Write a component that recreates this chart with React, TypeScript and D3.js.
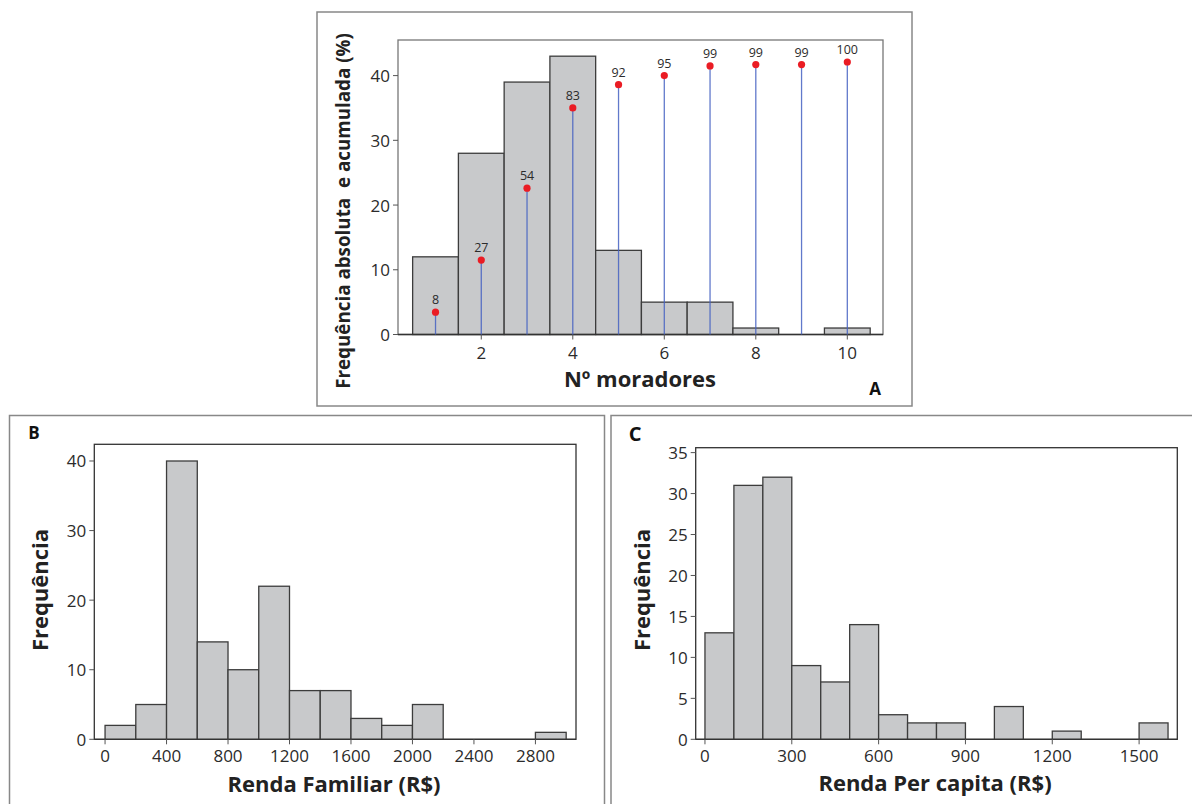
import React from "react";
import * as d3 from "d3";

// ---------- Data ----------
// Panel A: Nº moradores (absolute frequency histogram + cumulative stems)
const moradoresBins = [1, 2, 3, 4, 5, 6, 7, 8, 9, 10];
const moradoresFreq = [12, 28, 39, 43, 13, 5, 5, 1, 0, 1];
const cumLabels = [8, 27, 54, 83, 92, 95, 99, 99, 99, 100];
const cumHeights = [3.45, 11.5, 22.6, 35.0, 38.6, 40.0, 41.5, 41.7, 41.7, 42.1];
const moradoresXTicks = [2, 4, 6, 8, 10];
const moradoresYTicks = [0, 10, 20, 30, 40];

// Panel B: Renda Familiar (bins of 200)
const familiarBinStarts = [0, 200, 400, 600, 800, 1000, 1200, 1400, 1600, 1800, 2000, 2200, 2400, 2600, 2800];
const familiarFreq = [2, 5, 40, 14, 10, 22, 7, 7, 3, 2, 5, 0, 0, 0, 1];
const familiarXTicks = [0, 400, 800, 1200, 1600, 2000, 2400, 2800];
const familiarYTicks = [0, 10, 20, 30, 40];

// Panel C: Renda Per capita (bins of 100)
const perCapitaBinStarts = [0, 100, 200, 300, 400, 500, 600, 700, 800, 900, 1000, 1100, 1200, 1300, 1400, 1500];
const perCapitaFreq = [13, 31, 32, 9, 7, 14, 3, 2, 2, 0, 4, 0, 1, 0, 0, 2];
const perCapitaXTicks = [0, 300, 600, 900, 1200, 1500];
const perCapitaYTicks = [0, 5, 10, 15, 20, 25, 30, 35];

// ---------- Styles ----------
const BAR_FILL = "#c8c9cb";
const BAR_STROKE = "#3c3c3c";
const TEXT = "#2b2b2b";
const FONT = "'Open Sans', 'DejaVu Sans', sans-serif";
const TITLE_SIZE = 22;

type HistProps = {
  x0: number; x1: number; y0: number; y1: number; // frame pixel bounds (left, right, bottom, top)
  xDomain: [number, number]; yDomain: [number, number];
  binStarts: number[]; binWidth: number; freq: number[];
  xTicks: number[]; yTicks: number[];
  frameColor: string;
  tickFont: number;
  xLabelOffset: number;
};

function Histogram(p: HistProps) {
  const x = d3.scaleLinear().domain(p.xDomain).range([p.x0, p.x1]);
  const y = d3.scaleLinear().domain(p.yDomain).range([p.y0, p.y1]);
  return (
    <g>
      <rect x={p.x0} y={p.y1} width={p.x1 - p.x0} height={p.y0 - p.y1} fill="white" stroke={p.frameColor} strokeWidth={1.3} />
      {p.binStarts.map((b, i) =>
        p.freq[i] > 0 ? (
          <rect key={i} x={x(b)} y={y(p.freq[i])} width={x(b + p.binWidth) - x(b)} height={y(0) - y(p.freq[i])}
            fill={BAR_FILL} stroke={BAR_STROKE} strokeWidth={1.3} />
        ) : null
      )}
      <line x1={p.x0} x2={p.x1} y1={p.y0} y2={p.y0} stroke="#333" strokeWidth={1.3} />
      {p.yTicks.map((t) => (
        <g key={"y" + t}>
          <line x1={p.x0 - 5} x2={p.x0} y1={y(t)} y2={y(t)} stroke="#555" strokeWidth={1} />
          <text x={p.x0 - 8} y={y(t)} textAnchor="end" dominantBaseline="central" fontSize={p.tickFont} fill={TEXT} fontFamily={FONT}>{t}</text>
        </g>
      ))}
      {p.xTicks.map((t) => (
        <g key={"x" + t}>
          <line x1={x(t)} x2={x(t)} y1={p.y0} y2={p.y0 + 5} stroke="#555" strokeWidth={1} />
          <text x={x(t)} y={p.y0 + p.xLabelOffset} textAnchor="middle" dominantBaseline="central" fontSize={p.tickFont} fill={TEXT} fontFamily={FONT}>{t}</text>
        </g>
      ))}
    </g>
  );
}

function PanelA() {
  const x0 = 398, x1 = 883, y0 = 334.5, y1 = 40;
  const xDomain: [number, number] = [0.18, 10.78];
  const yDomain: [number, number] = [0, 45.5];
  const x = d3.scaleLinear().domain(xDomain).range([x0, x1]);
  const y = d3.scaleLinear().domain(yDomain).range([y0, y1]);
  return (
    <g>
      <Histogram x0={x0} x1={x1} y0={y0} y1={y1} xDomain={xDomain} yDomain={yDomain}
        binStarts={moradoresBins.map((b) => b - 0.5)} binWidth={1} freq={moradoresFreq}
        xTicks={moradoresXTicks} yTicks={moradoresYTicks} frameColor="#777" tickFont={17} xLabelOffset={18} />
      {moradoresBins.map((b, i) => (
        <g key={"c" + i}>
          <line x1={x(b)} x2={x(b)} y1={y(0)} y2={y(cumHeights[i])} stroke="#4562c2" strokeOpacity={0.85} strokeWidth={1.3} />
          <circle cx={x(b)} cy={y(cumHeights[i])} r={3.6} fill="#ea1c24" />
          <text x={x(b)} y={y(cumHeights[i]) - 8} textAnchor="middle" fontSize={12.5} fill={TEXT} fontFamily={FONT}>{cumLabels[i]}</text>
        </g>
      ))}
      <text x={640} y={378} textAnchor="middle" dominantBaseline="central" fontSize={TITLE_SIZE} fontWeight="bold" fill="#222" fontFamily={FONT}>Nº moradores</text>
      <text transform="translate(343,211) rotate(-90)" textAnchor="middle" dominantBaseline="central" fontSize={18.8} fontWeight="bold" fill="#222" fontFamily={FONT} xmlSpace="preserve">Frequência absoluta  e acumulada (%)</text>
      <text x={875} y={388} textAnchor="middle" dominantBaseline="central" fontSize={17} fontWeight="bold" fill="#111" fontFamily={FONT}>A</text>
    </g>
  );
}

function PanelB() {
  return (
    <g>
      <Histogram x0={94.3} x1={576} y0={739.3} y1={444.3} xDomain={[-70, 3064]} yDomain={[0, 42.4]}
        binStarts={familiarBinStarts} binWidth={200} freq={familiarFreq}
        xTicks={familiarXTicks} yTicks={familiarYTicks} frameColor="#333" tickFont={17} xLabelOffset={16} />
      <text x={334} y={783} textAnchor="middle" dominantBaseline="central" fontSize={TITLE_SIZE} fontWeight="bold" fill="#222" fontFamily={FONT}>Renda Familiar (R$)</text>
      <text transform="translate(39,590) rotate(-90)" textAnchor="middle" dominantBaseline="central" fontSize={TITLE_SIZE} fontWeight="bold" fill="#222" fontFamily={FONT}>Frequência</text>
      <text x={34} y={432} textAnchor="middle" dominantBaseline="central" fontSize={17} fontWeight="bold" fill="#111" fontFamily={FONT}>B</text>
    </g>
  );
}

function PanelC() {
  return (
    <g>
      <Histogram x0={695.7} x1={1177.3} y0={739.3} y1={447.7} xDomain={[-32, 1632]} yDomain={[0, 35.6]}
        binStarts={perCapitaBinStarts} binWidth={100} freq={perCapitaFreq}
        xTicks={perCapitaXTicks} yTicks={perCapitaYTicks} frameColor="#333" tickFont={17} xLabelOffset={16} />
      <text x={935} y={782} textAnchor="middle" dominantBaseline="central" fontSize={TITLE_SIZE} fontWeight="bold" fill="#222" fontFamily={FONT}>Renda Per capita (R$)</text>
      <text transform="translate(641,590) rotate(-90)" textAnchor="middle" dominantBaseline="central" fontSize={TITLE_SIZE} fontWeight="bold" fill="#222" fontFamily={FONT}>Frequência</text>
      <text x={635} y={433} textAnchor="middle" dominantBaseline="central" fontSize={20} fontWeight="bold" fill="#111" fontFamily={FONT}>C</text>
    </g>
  );
}

export default function App() {
  return (
    <svg width={1192} height={804} style={{ position: "absolute", left: 0, top: 0, display: "block", background: "white" }}>
      {/* panel frames */}
      <rect x={317} y={12} width={595} height={394} fill="none" stroke="#888" strokeWidth={1.5} />
      <path d="M9.5,804 L9.5,415.5 L604.5,415.5 L604.5,804" fill="none" stroke="#888" strokeWidth={1.5} />
      <path d="M611,804 L611,415.5 L1192,415.5" fill="none" stroke="#888" strokeWidth={1.5} />
      <PanelA />
      <PanelB />
      <PanelC />
    </svg>
  );
}
